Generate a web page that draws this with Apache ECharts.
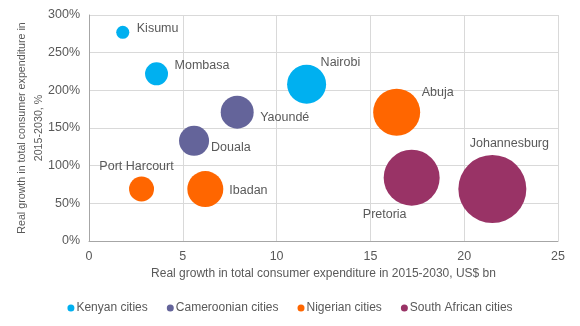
<!DOCTYPE html>
<html><head><meta charset="utf-8">
<script src="https://cdn.jsdelivr.net/npm/echarts@6/dist/echarts.min.js"></script>
<style>html,body{margin:0;padding:0;background:#fff}#c{width:580px;height:326px}</style>
</head><body><div id="c"></div>
<script>
// Data
const groups = ["Kenyan cities", "Cameroonian cities", "Nigerian cities", "South African cities"];
const cities = ["Kisumu", "Mombasa", "Nairobi", "Yaoundé", "Douala", "Port Harcourt", "Ibadan", "Abuja", "Pretoria", "Johannesburg"];
const cityGroup = [0, 0, 0, 1, 1, 2, 2, 2, 3, 3];
const expenditureGrowth = [1.8, 3.6, 11.6, 7.9, 5.6, 2.8, 6.2, 16.4, 17.2, 21.5]; // US$ bn
const pctGrowth = [277, 222, 208, 171, 133, 69, 69, 171, 84, 69]; // %
const bubbleValue = [3.7, 11.4, 32.9, 23.5, 19.5, 13.5, 28, 47.8, 67.8, 100]; // relative bubble size
const xTicks = [0, 5, 10, 15, 20, 25];
const yTicks = [0, 50, 100, 150, 200, 250, 300];

// Styles
const colors = ["#00B0F0", "#64649A", "#FF6600", "#993366"];
const labelStyle = {
  "Kisumu": {align: "left", off: [14, -4]},
  "Mombasa": {align: "left", off: [18, -8]},
  "Nairobi": {align: "left", off: [14, -22]},
  "Yaoundé": {align: "left", off: [23, 5]},
  "Douala": {align: "left", off: [17, 7]},
  "Port Harcourt": {align: "center", off: [-5, -22]},
  "Ibadan": {align: "left", off: [24, 2]},
  "Abuja": {align: "left", off: [25, -20]},
  "Pretoria": {align: "center", off: [-27, 37]},
  "Johannesburg": {align: "center", off: [17, -45]}
};
const font = "'Liberation Sans', Arial, sans-serif";
const textColor = "#595959";
const maxDiam = 68;
const fs = 12;

const series = groups.map((g, gi) => ({
  name: g,
  type: "scatter",
  itemStyle: {color: colors[gi], opacity: 1},
  symbolSize: v => maxDiam * Math.sqrt(v[2] / 100),
  data: cities.map((c, i) => ({c, i})).filter(o => cityGroup[o.i] === gi).map(o => ({
    name: o.c,
    value: [expenditureGrowth[o.i], pctGrowth[o.i], bubbleValue[o.i]],
    label: {
      show: true, position: "inside", formatter: o.c,
      align: labelStyle[o.c].align, verticalAlign: "middle",
      offset: labelStyle[o.c].off,
      color: textColor, fontFamily: font, fontSize: 12.5
    }
  })),
  emphasis: {disabled: true}
}));

const chart = echarts.init(document.getElementById("c"), null, {renderer: "canvas"});
chart.setOption({
  animation: false,
  color: colors,
  textStyle: {fontFamily: font},
  grid: {left: 89, right: 22, top: 15, bottom: 85, containLabel: false, outerBoundsMode: "none"},
  xAxis: {
    type: "value", min: xTicks[0], max: xTicks[xTicks.length - 1], interval: 5,
    name: "Real growth in total consumer expenditure in 2015-2030, US$ bn",
    nameLocation: "middle", nameGap: 27, nameMoveOverlap: false,
    nameTextStyle: {color: textColor, fontSize: fs, fontFamily: font},
    axisLine: {show: true, lineStyle: {color: "#A6A6A6"}},
    axisTick: {show: false},
    axisLabel: {color: textColor, fontSize: 12.5, fontFamily: font, margin: 9},
    splitLine: {show: true, lineStyle: {color: "#D9D9D9"}}
  },
  yAxis: {
    type: "value", min: yTicks[0], max: yTicks[yTicks.length - 1], interval: 50,
    name: "Real growth in total consumer expenditure in\n2015-2030, %",
    nameLocation: "middle", nameGap: 41, nameMoveOverlap: false,
    nameTextStyle: {color: textColor, fontSize: 10.7, fontFamily: font, lineHeight: 17},
    axisLine: {show: true, lineStyle: {color: "#A6A6A6"}},
    axisTick: {show: false},
    axisLabel: {color: textColor, fontSize: 12.5, fontFamily: font, margin: 9, formatter: v => v + "%"},
    splitLine: {show: true, lineStyle: {color: "#D9D9D9"}}
  },
  legend: {
    data: groups, top: 297, left: "center",
    icon: "circle", itemWidth: 7, itemHeight: 7, itemGap: 19,
    textStyle: {color: textColor, fontSize: fs, fontFamily: font, padding: [0, 0, 0, -3]}
  },
  series
});
</script></body></html>
